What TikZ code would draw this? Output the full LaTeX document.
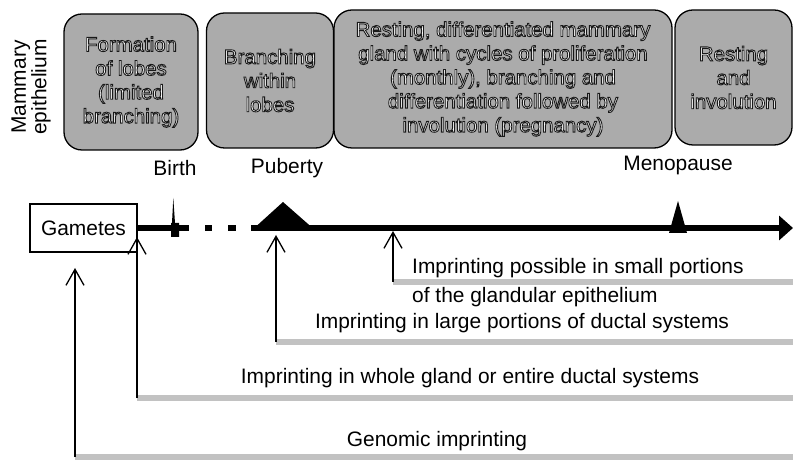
\documentclass[tikz,border=0pt]{standalone}
\usepackage{fontspec}
\setmainfont{Liberation Sans}
\usetikzlibrary{arrows.meta}
\definecolor{boxgray}{gray}{0.67}
\definecolor{stripgray}{gray}{0.76}
\newcommand{\outlon}{\special{pdf:literal direct 2 Tr 0.9 w 0.1 G}}
\newcommand{\outloff}{\special{pdf:literal direct 0 Tr}}
\newcommand{\ow}[1]{\outlon#1\outloff}
\begin{document}
\begin{tikzpicture}[x=1bp,y=-1bp,
  stage/.style={draw=black, line width=1.3bp, fill=boxgray, rounded corners=18bp,
    text=white, align=center, font=\fontsize{20.5}{24}\selectfont, inner sep=0pt},
  lbl/.style={font=\fontsize{21}{25}\selectfont, inner sep=0pt},
  uparrow/.style={line width=1.3bp, -{Straight Barb[length=16bp,width=18bp]}},
  strip/.style={stripgray, line width=6bp},
  timeline/.style={line width=6bp},
]
\useasboundingbox (0,0) rectangle (793,468);

% stage boxes
\node[stage, minimum width=134bp, minimum height=136bp] (s1) at (131,82)
  {\ow{Formation\\of lobes\\(limited\\branching)}};
\node[stage, minimum width=127bp, minimum height=135bp] (s2) at (270,80.5)
  {\ow{Branching\\within\\lobes}};
\node[stage, minimum width=338bp, minimum height=138bp] (s3) at (503,79)
  {\ow{Resting, differentiated mammary\\gland with cycles of proliferation\\(monthly), branching and\\differentiation followed by\\involution (pregnancy)}};
\node[stage, minimum width=117bp, minimum height=135bp] (s4) at (733.5,77.5)
  {\ow{Resting\\and\\involution}};

\node[lbl, rotate=90, align=center, font=\fontsize{21}{17}\selectfont] (me) at (31,87) {Mammary\\epithelium};

% event labels
\node[lbl] (birth) at (175,168) {Birth};
\node[lbl] (pub) at (287,168) {Puberty};
\node[lbl] (meno) at (678,165) {Menopause};

% gametes and timeline
\node[lbl, draw, line width=1.2bp, minimum width=107bp, minimum height=48bp] (gam) at (83.5,228) {Gametes};
\coordinate (t1) at (189,228);
\coordinate (d1a) at (205,228); \coordinate (d1b) at (212,228);
\coordinate (d2a) at (228,228); \coordinate (d2b) at (236,228);
\coordinate (t2) at (251,228); \coordinate (tend) at (793,228);
\draw[timeline] (gam.east) -- (t1);
\draw[timeline] (d1a) -- (d1b);
\draw[timeline] (d2a) -- (d2b);
\draw[timeline, -{Triangle[length=14bp,width=24bp]}] (t2) -- (tend);

% markers
\fill (173.3,198) -- (175,223) -- (179,223) -- (179,237) -- (171,237) -- (171,223) -- (172,223) -- cycle;
\fill (251,231) -- (283,202) -- (316,231) -- cycle;
\fill (669,233) -- (678,201) -- (687,233) -- cycle;

% strips
\coordinate (g0) at (75,457);  \coordinate (g1) at (75,268);  \coordinate (g2) at (793,457);
\coordinate (w0) at (137,398); \coordinate (w1) at (137,237); \coordinate (w2) at (793,398);
\coordinate (l0) at (276,342); \coordinate (l1) at (276,235); \coordinate (l2) at (793,342);
\coordinate (p0) at (393,282); \coordinate (p1) at (393,231); \coordinate (p2) at (793,282);
\draw[strip] (g0) -- (g2);
\draw[strip] (w0) -- (w2);
\draw[strip] (l0) -- (l2);
\draw[strip] (p0) -- (p2);
\draw[uparrow] (g0) -- (g1);
\draw[uparrow] (w0) -- (w1);
\draw[uparrow] (l0) -- (l1);
\draw[uparrow] (p0) -- (p1);

% imprinting labels
\node[lbl] (tg) at (437,441) {Genomic imprinting};
\node[lbl] (tw) at (470,378) {Imprinting in whole gland or entire ductal systems};
\node[lbl] (tl) at (522,323) {Imprinting in large portions of ductal systems};
\node[lbl, anchor=west, align=left, font=\fontsize{21}{29}\selectfont] (tp) at (412,282.5)
  {Imprinting possible in small portions\\of the glandular epithelium};
\end{tikzpicture}
\end{document}
